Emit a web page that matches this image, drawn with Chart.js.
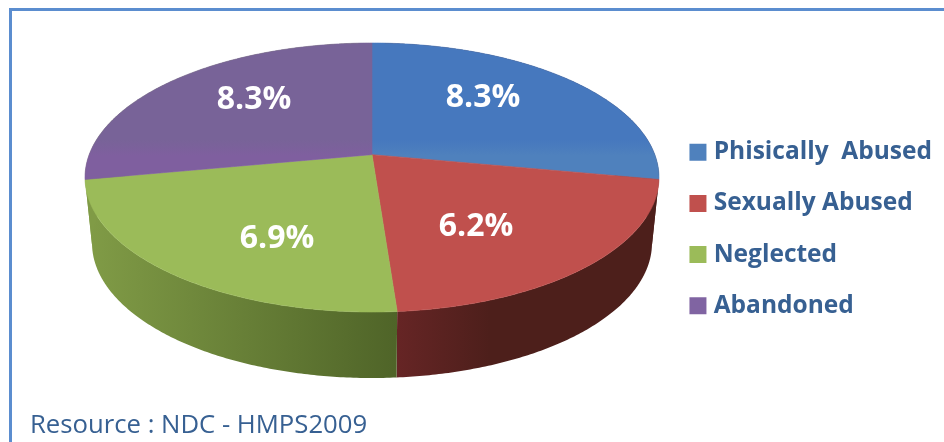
<!DOCTYPE html>
<html>
<head>
<meta charset="utf-8">
<title>Resource chart</title>
<style>
  html, body { margin: 0; padding: 0; background: #fff; }
  #wrap { position: relative; width: 944px; height: 442px; overflow: hidden; }
  #frame { position: absolute; left: 9px; top: 8px; right: 0; bottom: -4px; border-left: 3px solid #5b8dcf; border-top: 3px solid #5b8dcf; }
  canvas { position: absolute; left: 0; top: 0; }
</style>
<script src="https://cdn.jsdelivr.net/npm/chart.js@4"></script>
</head>
<body>
<div id="wrap">
  <div id="frame"></div>
  <canvas id="pie" width="944" height="442"></canvas>
</div>
<script>
const categories = ["Phisically  Abused", "Sexually Abused", "Neglected", "Abandoned"];
const percentValues = [8.3, 6.2, 6.9, 8.3];
const sourceNote = "Resource : NDC - HMPS2009";

// upper and lower tone of each top face
const faceStops = [
  ["#4678be", "#4f81bd"],
  ["#c0504d", "#c0504d"],
  ["#9bbb59", "#9bbb59"],
  ["#786398", "#7f5f9f"]
];
// blue and purple walls sit behind the seam, they only ever show as the neighbour colour
const wallStops = [
  ["#4d1f1b", "#4d1f1b"],
  ["#662525", "#4d1f1b"],
  ["#809b46", "#4f6428"],
  ["#809b46", "#809b46"]
];
const wallRanges = [[372, 660], [397, 490], [90, 397], [85, 372]];
const labelSpots = [[483, 98], [476, 227], [277, 239], [254, 100]];

// top rim and bottom rim of the disc, k pulls the hub up for the perspective
const topRim = { cx: 372, cy: 177.5, rx: 287, ry: 134.5 };
const bottomRim = { cx: 372, cy: 243, rx: 280, ry: 135 };
const k = -0.17;

function project(rim, u, v) {
  const d = 1 + k * v;
  return {
    x: rim.cx + rim.rx * u * Math.sqrt(1 - k * k) / d,
    y: rim.cy + rim.ry * (v + k) / d
  };
}

function rimPoints(rim, start, end) {
  const steps = Math.max(2, Math.ceil((end - start) / 0.01));
  const pts = [];
  for (let i = 0; i <= steps; i++) {
    const a = start + (end - start) * i / steps;
    pts.push(project(rim, Math.cos(a), Math.sin(a)));
  }
  return pts;
}

const tiltedPie = {
  id: "tiltedPie",
  beforeDatasetDraw(chart) {
    const ctx = chart.ctx;
    const arcs = chart.getDatasetMeta(0).data;
    ctx.save();

    // side walls first, the top face covers whatever is at the back
    arcs.forEach((arc, i) => {
      const top = rimPoints(topRim, arc.startAngle, arc.endAngle);
      const bottom = rimPoints(bottomRim, arc.startAngle, arc.endAngle).reverse();
      const g = ctx.createLinearGradient(wallRanges[i][0], 0, wallRanges[i][1], 0);
      g.addColorStop(0, wallStops[i][0]);
      g.addColorStop(1, wallStops[i][1]);
      ctx.beginPath();
      top.concat(bottom).forEach((p, n) => n ? ctx.lineTo(p.x, p.y) : ctx.moveTo(p.x, p.y));
      ctx.closePath();
      ctx.fillStyle = g;
      ctx.fill();
    });

    const hub = project(topRim, 0, 0);
    arcs.forEach((arc, i) => {
      const g = ctx.createLinearGradient(0, 140, 0, 156);
      g.addColorStop(0, faceStops[i][0]);
      g.addColorStop(1, faceStops[i][1]);
      ctx.beginPath();
      ctx.moveTo(hub.x, hub.y);
      rimPoints(topRim, arc.startAngle, arc.endAngle).forEach(p => ctx.lineTo(p.x, p.y));
      ctx.closePath();
      ctx.fillStyle = g;
      ctx.strokeStyle = g;
      ctx.lineWidth = 0.6;
      ctx.fill();
      ctx.stroke();
    });

    ctx.fillStyle = "#fff";
    ctx.font = "bold 32px 'Open Sans'";
    ctx.textAlign = "center";
    ctx.textBaseline = "middle";
    percentValues.forEach((val, i) => {
      ctx.fillText(val.toFixed(1) + "%", labelSpots[i][0], labelSpots[i][1]);
    });

    ctx.restore();
    return false;
  }
};

new Chart(document.getElementById("pie"), {
  type: "pie",
  data: {
    labels: categories,
    datasets: [{ data: percentValues, backgroundColor: ["#4f81bd", "#c0504d", "#9bbb59", "#8064a2"], borderWidth: 0 }]
  },
  options: {
    responsive: false,
    animation: false,
    layout: { padding: { left: 30, top: 16, right: 2, bottom: 0 } },
    plugins: {
      tooltip: { enabled: false },
      title: {
        display: true,
        text: sourceNote,
        position: "bottom",
        align: "start",
        color: "#376092",
        font: { family: "'Open Sans'", size: 25.7, weight: "normal" },
        padding: { top: 4, bottom: 1 }
      },
      legend: {
        position: "right",
        align: "center",
        labels: {
          usePointStyle: true,
          pointStyle: "rect",
          boxWidth: 7,
          boxHeight: 17,
          padding: 26.7,
          color: "#376092",
          font: { family: "'Open Sans'", size: 24.5, weight: "bold" }
        }
      }
    }
  },
  plugins: [tiltedPie]
});
</script>
</body>
</html>
